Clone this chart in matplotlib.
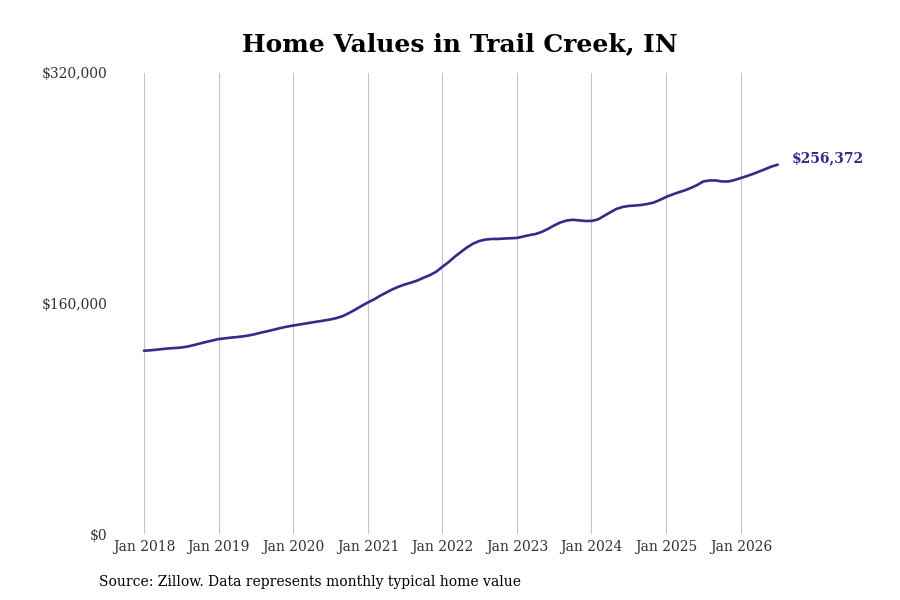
import matplotlib
matplotlib.use("Agg")
import matplotlib.pyplot as plt
import matplotlib.dates as mdates
import pandas as pd

# monthly typical home value, Jan 2018 - Jul 2026 (in $K)
values_k = [
    127.2, 127.5, 127.9, 128.4, 128.8, 129.1, 129.4, 130.1, 131.1, 132.2, 133.3, 134.3,  # 2018
    135.3, 135.8, 136.3, 136.7, 137.2, 137.9, 138.8, 139.9, 140.9, 141.9, 143.0, 143.9,  # 2019
    144.7, 145.4, 146.1, 146.8, 147.5, 148.2, 148.9, 149.9, 151.3, 153.4, 155.8, 158.3,  # 2020
    160.7, 162.9, 165.3, 167.6, 169.8, 171.7, 173.2, 174.5, 176.0, 177.9, 179.7, 182.0,  # 2021
    185.5, 188.8, 192.3, 195.7, 198.9, 201.6, 203.4, 204.4, 204.8, 204.8, 205.1, 205.3,  # 2022
    205.5, 206.5, 207.4, 208.2, 209.6, 211.7, 214.1, 216.2, 217.6, 218.1, 217.7, 217.3,  # 2023
    217.3, 218.3, 220.7, 223.2, 225.6, 227.0, 227.7, 228.0, 228.4, 229.1, 230.1, 231.9,  # 2024
    234.0, 235.7, 237.1, 238.5, 240.2, 242.2, 244.7, 245.4, 245.4, 244.7, 244.7, 245.7,  # 2025
    247.1, 248.5, 249.9, 251.6, 253.3, 255.1, 256.372,                                  # 2026
]
dates = pd.date_range("2018-01-01", periods=len(values_k), freq="MS")
values = [v * 1000 for v in values_k]

title = "Home Values in Trail Creek, IN"
source = "Source: Zillow. Data represents monthly typical home value"
y_ticks = [0, 160000, 320000]
x_years = list(range(2018, 2027))

line_color = "#302C87"

plt.rcParams['font.family'] = ['DejaVu Serif']

fig = plt.figure(figsize=(9, 6), dpi=100)
ax = fig.add_axes([112 / 900, 66 / 600, (790 - 112) / 900, (534 - 73) / 600])

ax.plot(dates, values, color=line_color, lw=1.9, solid_capstyle='round')

start = mdates.date2num(pd.Timestamp("2018-01-01"))
px_per_day = 74.6 / 365.25
ax.set_xlim(start - 32 / px_per_day, start + (790 - 144) / px_per_day)
ax.set_ylim(0, 320000)

ax.set_yticks(y_ticks)
ax.set_yticklabels([f"${v:,.0f}" for v in y_ticks], fontsize=10, color="#333333")
ax.set_xticks([pd.Timestamp(f"{y}-01-01") for y in x_years])
ax.set_xticklabels([f"Jan {y}" for y in x_years], fontsize=10, color="#333333")
ax.tick_params(axis='both', length=0)
ax.tick_params(axis='y', pad=3.5)
ax.tick_params(axis='x', pad=4)

ax.grid(axis='x', color="#c4c4c4", lw=0.8)
ax.grid(axis='y', visible=False)
for s in ax.spines.values():
    s.set_visible(False)

ax.annotate(f"${values[-1]:,.0f}", xy=(dates[-1], values[-1]), xytext=(10, 4.5),
            textcoords='offset points', ha='left', va='center',
            fontsize=10, fontweight='bold', color=line_color, annotation_clip=False)

fig.text(460 / 900, 1 - 44 / 600, title, ha='center', va='center', fontsize=18, fontweight='bold')
fig.text(99 / 900, 1 - 582 / 600, source, ha='left', va='center', fontsize=10)

fig.savefig("out.png", dpi=100)
